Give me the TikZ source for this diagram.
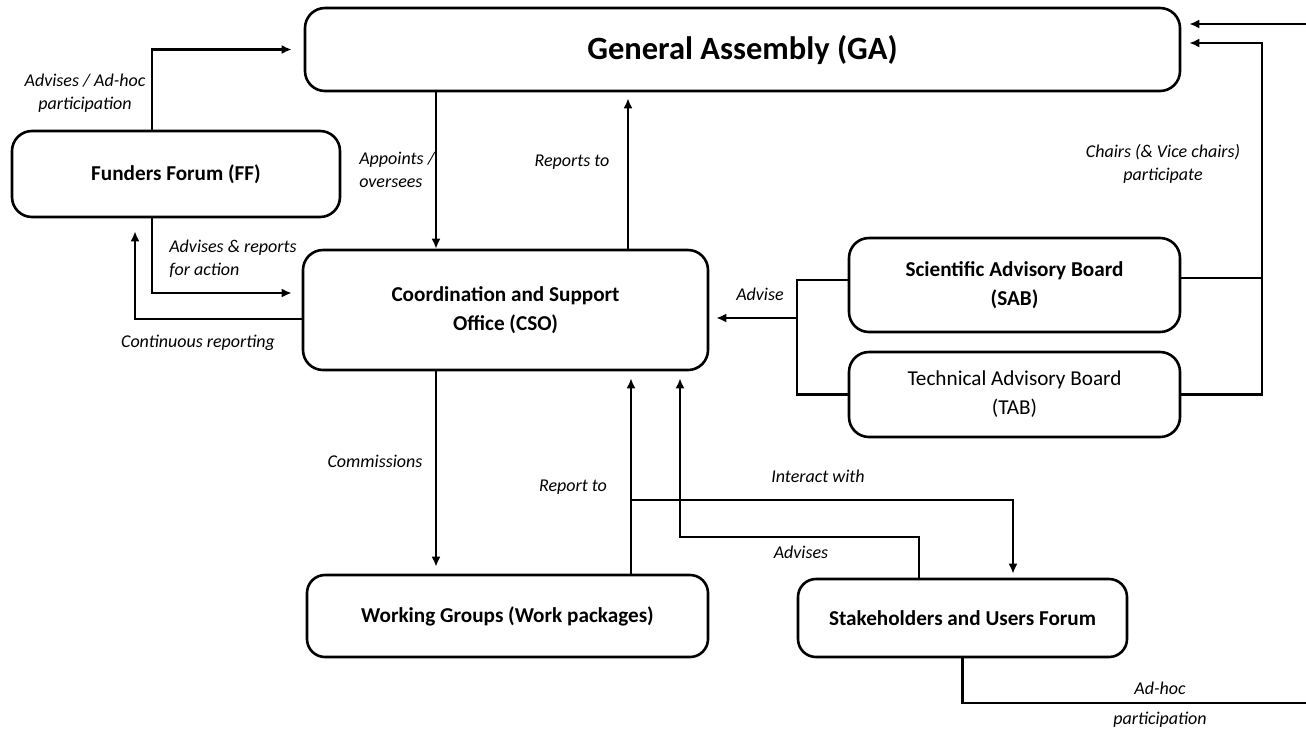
\documentclass[tikz,border=0pt]{standalone}
\usepackage{fontspec}
\setmainfont{Carlito}
\usepackage{tikz}
\usetikzlibrary{arrows.meta}

\begin{document}
\begin{tikzpicture}[x=1pt,y=1pt,>={Latex[length=10pt,width=9pt]},line width=2.6pt,
  box/.style={draw,rounded corners=20pt,align=center,inner sep=2pt,
    font=\fontsize{21.2}{29}\selectfont\bfseries},
  plain/.style={box,font=\fontsize{21.2}{29}\selectfont},
  lab/.style={font=\fontsize{18}{23}\selectfont\itshape,inner sep=1pt,align=center}]
\useasboundingbox (0,0) rectangle (1306,-729);
% bodies
\node[box,minimum width=875pt,minimum height=83pt,font=\fontsize{32.5}{36}\selectfont\bfseries] (ga) at (742.5,-49.5) {General Assembly (GA)};
\node[box,minimum width=328pt,minimum height=86pt] (ff) at (176,-174) {Funders Forum (FF)};
\node[box,minimum width=405pt,minimum height=120pt] (cso) at (505.5,-310) {Coordination and Support\\Office (CSO)};
\node[box,minimum width=331pt,minimum height=94pt] (sab) at (1014.5,-285) {Scientific Advisory Board\\(SAB)};
\node[plain,minimum width=331pt,minimum height=85pt] (tab) at (1014.5,-394.5) {Technical Advisory Board\\(TAB)};
\node[box,minimum width=401pt,minimum height=82pt,rounded corners=18pt] (wg) at (507.5,-616) {Working Groups (Work packages)};
\node[box,minimum width=329pt,minimum height=78pt,rounded corners=18pt] (suf) at (962.5,-618) {Stakeholders and Users Forum};
% bends
\coordinate (jn) at (797,-318);
\coordinate (rt) at (1262,-43);
\coordinate (ia) at (631,-500);
\coordinate (av) at (680,-537);
\coordinate (eb) at (1320,-703);
\coordinate (et) at (1320,-24);
% funders forum
\draw[->,shorten >=12pt] ([xshift=-24pt]ff.north) |- (ga.west);
\draw[->,shorten >=10pt] ([xshift=-24pt]ff.south) |- ([yshift=17pt]cso.west);
\draw[->,shorten >=13pt] ([yshift=-9pt]cso.west) -| ([xshift=-41pt]ff.south);
\node[lab] at (85,-93) {Advises / Ad-hoc\\participation};
\node[lab,anchor=west,align=left] at (167,-259) {Advises \& reports\\for action};
\node[lab] at (198,-343) {Continuous reporting};
% assembly and office
\draw[->] ([xshift=-69.5pt]cso.north |- ga.south) -- ([xshift=-69.5pt]cso.north);
\draw[->,shorten >=6pt] ([xshift=122.5pt]cso.north) -- ([xshift=122.5pt]cso.north |- ga.south);
\node[lab,anchor=west,align=left] at (357,-170) {Appoints /\\oversees};
\node[lab] at (572,-162) {Reports to};
% advisory boards
\draw ([yshift=5pt]sab.west) -| (jn) |- (tab.west);
\draw[->,shorten >=7pt] (jn) -- (jn -| cso.east);
\node[lab] at (760,-294) {Advise};
\draw ([yshift=7pt]sab.east) -| (rt);
\draw[->,shorten >=8pt] (tab.east) -| (rt) -- (rt -| ga.east);
\node[lab] at (1163,-164) {Chairs (\& Vice chairs)\\participate};
% working groups and forum
\draw[->,shorten >=7pt] ([xshift=-69.5pt]cso.south) -- ([xshift=-69.5pt]cso.south |- wg.north);
\draw[->,shorten >=7pt] ([xshift=123.5pt]wg.north) -- ([xshift=123.5pt]wg.north |- cso.south);
\draw[->,shorten >=4pt] (ia) -| ([xshift=50.5pt]suf.north);
\draw[->,shorten >=7pt] ([xshift=-43.5pt]suf.north) |- (av) -- (av |- cso.south);
\node[lab] at (375,-461) {Commissions};
\node[lab] at (573,-487) {Report to};
\node[lab] at (818,-476) {Interact with};
\node[lab] at (801,-552) {Advises};
\draw[->,shorten >=8pt] (suf.south) |- (eb) -- (et) -- (et -| ga.east);
\node[lab] at (1160,-705) {Ad-hoc\\[7pt]participation};
\end{tikzpicture}
\end{document}
